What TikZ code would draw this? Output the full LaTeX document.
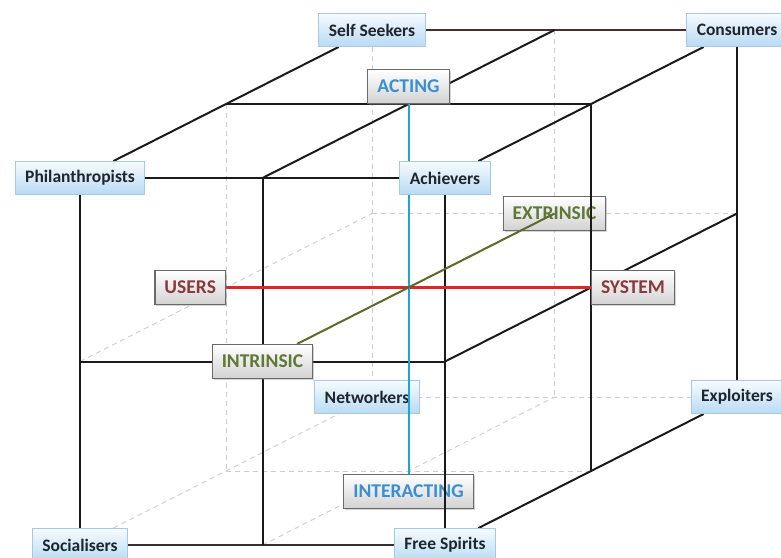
\documentclass[tikz,border=0pt]{standalone}
\usepackage{fontspec}
\setmainfont{Carlito}
\usetikzlibrary{shadows}
\pgfdeclarelayer{back}
\pgfdeclarelayer{edges}
\pgfsetlayers{back,edges,main}

\definecolor{cornerline}{HTML}{A6C9E6}
\definecolor{cornertop}{HTML}{F6FBFF}
\definecolor{cornerbot}{HTML}{B8DAF3}
\definecolor{cornertext}{HTML}{1E252C}
\definecolor{axisline}{HTML}{6A6A6A}
\definecolor{axisbot}{HTML}{D2D2D2}
\definecolor{actblue}{HTML}{3A8ED2}
\definecolor{userred}{HTML}{8A3A3E}
\definecolor{intgreen}{HTML}{5E7835}
\definecolor{edgeblack}{HTML}{1A1A1A}
\definecolor{topbrown}{HTML}{4A2E2E}
\definecolor{hiddengray}{HTML}{CDCDCD}
\definecolor{axisred}{HTML}{D8262A}
\definecolor{axisblue}{HTML}{1AA4DA}
\definecolor{axisgreen}{HTML}{5C6A2A}

\begin{document}
\begin{tikzpicture}[x=1pt,y=-1pt,
  corner/.style={draw=cornerline, line width=0.9pt, top color=cornertop,
    bottom color=cornerbot, text=cornertext,
    font=\bfseries\fontsize{17.5}{17.5}\selectfont,
    inner xsep=10pt, minimum height=33pt},
  axisbox/.style={draw=axisline, line width=1.1pt, top color=white,
    bottom color=axisbot, font=\bfseries\fontsize{19.5}{19.5}\selectfont,
    inner xsep=9.5pt, minimum height=34pt,
    drop shadow={opacity=0.35, shadow xshift=1.5pt, shadow yshift=-1.8pt}},
  edge/.style={draw=edgeblack, line width=2pt},
  hidden/.style={draw=hiddengray, line width=0.9pt, dash pattern=on 5pt off 4pt},
]
\useasboundingbox (0,0) rectangle (781,557);

% lattice points of the 2x2x2 cube: i = across, j = down, k = depth
\foreach \i in {0,1,2}
  \foreach \j in {0,1,2}
    \foreach \k in {0,1,2}
      \coordinate (p\i\j\k) at ({80+182.5*\i+146*\k},{178+183.5*\j-74*\k});

% corner labels
\node[corner] (phil) at (p000) {Philanthropists};
\node[corner] (ach)  at (p200) {Achievers};
\node[corner] (soc)  at (p020) {Socialisers};
\node[corner] (free) at (p220) {Free Spirits};
\node[corner] (self) at (p002) {Self Seekers};
\node[corner] (cons) at (p202) {Consumers};
\node[corner] (expl) at (p222) {Exploiters};

% hidden edges and the labels lying behind the front lines
\begin{pgfonlayer}{back}
  \draw[hidden] (self) -- (p022);
  \draw[hidden] (p102) -- (p122);
  \draw[hidden] (p012) -- (p212);
  \draw[hidden] (p022) -- (expl);
  \draw[hidden] (p001) -- (p021);
  \draw[hidden] (p010) -- (p012);
  \draw[hidden] (soc) -- (p022);
  \draw[hidden] (p021) -- (p221);
  \draw[hidden] (p120) -- (p122);
  \node[corner, xshift=-5pt] (net) at (p022) {Networkers};
  \node[axisbox, text=intgreen] (extr) at (p112) {EXTRINSIC};
  \node[axisbox, text=actblue, anchor=north, yshift=-3pt] (inter) at (p121) {INTERACTING};
\end{pgfonlayer}

% axis labels in front
\node[axisbox, text=actblue, anchor=south] (act) at (p101) {ACTING};
\node[axisbox, text=userred, anchor=east] (users) at (p011) {USERS};
\node[axisbox, text=userred, anchor=west] (sys) at (p211) {SYSTEM};
\node[axisbox, text=intgreen] (intr) at (p110) {INTRINSIC};

\begin{pgfonlayer}{edges}
  % front face
  \draw[edge] (phil) -- (ach);
  \draw[edge] (p010) -- (p210);
  \draw[edge, draw=black!80, line width=2.4pt] (soc) -- (free);
  \draw[edge] (phil) -- (soc);
  \draw[edge] (p100) -- (p120);
  \draw[edge] (ach) -- (free);
  % top face
  \draw[edge] (p001) -- (p201);
  \draw[edge, draw=topbrown] (self) -- (cons);
  \draw[edge] (phil) -- (self);
  \draw[edge] (p100) -- (p102);
  \draw[edge] (ach) -- (cons);
  % right face
  \draw[edge] (p201) -- (p221);
  \draw[edge] (cons) -- (expl);
  \draw[edge] (p210) -- (p212);
  \draw[edge] (free) -- (expl);
  % the three axes through the centre
  \draw[axisred, line width=2.2pt] (users.east) -- (sys.west);
  \draw[axisblue, line width=2pt] (act.south) -- (inter.north);
  \draw[axisgreen, line width=2pt] (intr) -- (extr.center);
\end{pgfonlayer}
\end{tikzpicture}
\end{document}
